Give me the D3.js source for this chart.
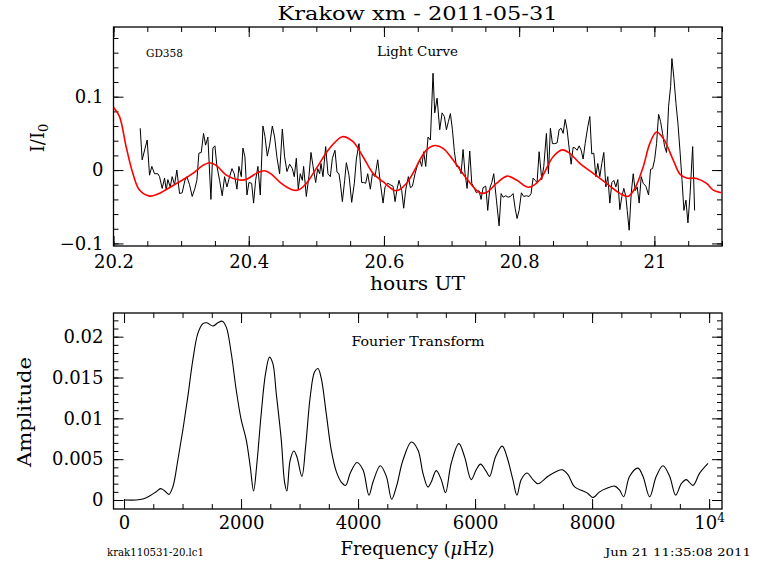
<!DOCTYPE html>
<html><head><meta charset="utf-8">
<script src="https://cdn.jsdelivr.net/npm/d3@7"></script>
<style>body{margin:0;background:#fff} svg{display:block} text{font-family:"DejaVu Serif",serif;fill:#000}</style>
</head><body><svg id="c" width="768" height="574"></svg>
<script>
// ---------- data ----------
const lcTime = [
20.2395,20.2424,20.2498,20.2533,20.2567,20.2607,20.2656,20.2681,20.2720,20.2755,
20.2780,20.2804,20.2839,20.2868,20.2903,20.2937,20.2977,20.3016,20.3056,20.3085,
20.3125,20.3164,20.3204,20.3233,20.3263,20.3298,20.3332,20.3362,20.3396,20.3441,
20.3470,20.3500,20.3530,20.3569,20.3608,20.3643,20.3678,20.3717,20.3752,20.3786,
20.3826,20.3855,20.3890,20.3914,20.3944,20.3974,20.4003,20.4043,20.4072,20.4102,
20.4136,20.4171,20.4210,20.4240,20.4275,20.4309,20.4349,20.4383,20.4418,20.4457,
20.4497,20.4531,20.4566,20.4605,20.4645,20.4674,20.4704,20.4733,20.4763,20.4793,
20.4812,20.4852,20.4891,20.4921,20.4950,20.4990,20.5020,20.5049,20.5069,20.5098,
20.5138,20.5172,20.5207,20.5237,20.5276,20.5306,20.5335,20.5355,20.5385,20.5419,
20.5444,20.5483,20.5523,20.5562,20.5592,20.5631,20.5671,20.5700,20.5730,20.5760,
20.5799,20.5829,20.5868,20.5908,20.5947,20.5987,20.6016,20.6056,20.6095,20.6135,
20.6164,20.6194,20.6223,20.6263,20.6292,20.6322,20.6361,20.6391,20.6421,20.6460,
20.6490,
20.6529,20.6559,20.6588,20.6618,20.6652,20.6687,20.6726,20.6751,20.6786,20.6825,
20.6860,20.6894,20.6924,20.6953,20.6983,20.7013,20.7042,20.7072,20.7111,20.7141,
20.7170,20.7200,20.7230,20.7269,20.7299,20.7328,20.7368,20.7407,20.7437,20.7466,
20.7506,20.7535,20.7565,20.7595,20.7624,20.7664,20.7703,20.7733,20.7762,20.7802,
20.7836,20.7871,20.7910,20.7940,20.7969,20.7999,20.8033,20.8068,20.8107,20.8147,
20.8176,20.8206,20.8236,20.8265,20.8295,20.8334,20.8364,20.8403,20.8433,20.8462,
20.8492,20.8527,20.8561,20.8591,20.8621,20.8650,20.8680,20.8709,20.8739,20.8769,
20.8798,20.8828,20.8857,20.8887,20.8917,20.8946,20.8976,20.9015,20.9045,20.9074,
20.9104,20.9134,20.9163,20.9193,20.9222,20.9252,20.9282,20.9311,20.9341,20.9371,
20.9400,20.9430,20.9459,20.9489,20.9519,20.9548,20.9578,20.9598,20.9627,20.9657,
20.9687,20.9716,20.9746,20.9775,20.9805,20.9835,20.9874,20.9914,20.9943,20.9973,
21.0003,21.0032,21.0062,21.0092,21.0121,21.0151,21.0180,21.0210,21.0240,21.0259,
21.0289,21.0319,21.0348,21.0378,21.0408,21.0437,21.0467,21.0496,21.0526,21.0566,
21.0595];
const lcFlux = [
0.057,0.014,0.041,-0.007,0.005,-0.005,-0.005,-0.009,-0.025,-0.011,
-0.027,-0.013,-0.023,-0.009,-0.020,0.000,-0.032,-0.031,-0.014,-0.009,
-0.020,-0.036,-0.025,-0.014,0.023,0.024,0.050,0.034,0.045,-0.040,
0.030,0.033,0.005,-0.014,-0.035,-0.009,-0.023,-0.009,0.002,-0.005,
-0.026,0.005,-0.009,0.030,0.018,-0.034,-0.017,-0.018,-0.045,-0.014,
0.005,-0.034,0.060,0.046,0.019,0.034,0.060,0.045,0.017,-0.005,
0.056,0.018,-0.002,0.008,0.002,-0.009,0.016,-0.026,-0.005,-0.014,
0.005,-0.036,-0.008,0.024,0.006,-0.017,0.002,-0.005,0.009,-0.009,
0.032,-0.005,-0.009,0.016,0.027,-0.003,-0.005,-0.018,-0.043,-0.014,
0.010,-0.007,-0.044,-0.018,0.015,0.036,-0.017,-0.017,-0.018,-0.005,
-0.026,-0.005,-0.009,0.014,-0.018,-0.045,-0.023,-0.018,-0.020,-0.022,
-0.043,-0.026,-0.014,-0.028,-0.052,-0.027,-0.009,-0.024,-0.022,-0.005,
0.005,
0.014,0.005,0.025,0.005,0.045,0.041,0.132,0.078,0.098,0.055,
0.078,0.073,0.055,0.066,0.077,0.055,0.025,0.005,0.005,-0.005,
0.028,-0.005,-0.025,0.026,-0.018,-0.023,-0.031,-0.028,-0.040,-0.024,
-0.022,-0.055,-0.025,-0.017,-0.005,-0.041,-0.076,-0.032,-0.037,-0.035,
-0.037,-0.036,-0.032,-0.052,-0.066,-0.055,-0.031,-0.036,-0.035,-0.036,
-0.032,-0.011,-0.014,-0.017,0.025,-0.013,0.005,0.050,-0.005,0.057,
0.036,0.036,0.037,0.055,0.057,0.050,0.069,0.055,0.030,0.008,
0.031,0.030,0.027,0.033,0.027,0.015,0.036,0.059,0.073,0.022,
0.023,-0.009,0.009,-0.009,0.009,0.024,-0.023,-0.009,-0.045,-0.017,
-0.014,-0.023,-0.013,-0.054,-0.036,-0.025,-0.036,-0.055,-0.082,-0.032,
-0.005,-0.028,-0.023,-0.045,-0.009,-0.018,-0.022,-0.034,0.001,0.002,
0.014,0.036,0.076,0.066,0.050,0.032,0.024,0.087,0.114,0.152,
0.125,0.091,0.064,0.027,-0.013,-0.055,-0.041,-0.072,-0.036,0.032,
-0.055];

const fitTime = [20.2,20.2089,20.2187,20.2286,20.2385,20.2533,20.2656,20.2780,20.2977,20.3174,
20.3322,20.3421,20.3520,20.3668,20.3865,20.3964,20.4112,20.4235,20.4334,20.4482,
20.4630,20.4728,20.4852,20.5000,20.5197,20.5385,20.5542,20.5690,20.5839,20.5987,
20.6184,20.6332,20.6480,20.6529,20.6628,20.6751,20.6875,20.7023,20.7220,20.7417,
20.7516,20.7664,20.7822,20.7960,20.8140,20.8305,20.8502,20.8641,20.8749,20.8897,
20.9095,20.9292,20.9489,20.9610,20.9711,20.9835,20.9933,21.0032,21.0131,21.0279,
21.0378,21.0476,21.0624,21.0772,21.0871,21.1];
const fitFlux = [0.0855,0.0728,0.0318,-0.0045,-0.0273,-0.0355,-0.0327,-0.0264,-0.0159,-0.0045,
0.0064,0.0100,0.0064,-0.0068,-0.0136,-0.0127,-0.0045,-0.0009,-0.0055,-0.0182,
-0.0264,-0.0273,-0.0182,0.0023,0.0296,0.0455,0.0387,0.0182,-0.0045,-0.0159,
-0.0282,-0.0182,0.0045,0.0136,0.0273,0.0335,0.0296,0.0136,-0.0114,-0.0310,
-0.0305,-0.0182,-0.0082,-0.0136,-0.0235,-0.0136,0.0182,0.0275,0.0227,0.0091,
-0.0045,-0.0182,-0.0318,-0.0360,-0.0250,0.0045,0.0364,0.0518,0.0432,0.0136,
-0.0055,-0.0109,-0.0114,-0.0182,-0.0273,-0.0309];

const ftFreq = [0,208,322,436,550,624,692,766,835,920,
1006,1091,1177,1262,1348,1416,1519,1604,1678,1746,
1832,1917,2003,2088,2157,2214,2271,2345,2419,2487,
2544,2601,2687,2744,2783,2840,2903,2954,3040,3103,
3183,3257,3314,3371,3456,3542,3627,3713,3787,3867,
3981,4084,4186,4255,4380,4483,4574,4654,4768,4911,
5025,5108,5193,5250,5336,5421,5495,5592,5723,5820,5934,
6019,6093,6190,6247,6350,6464,6544,6646,6715,6789,
6886,6989,7074,7245,7388,7490,7587,7701,7844,7929,
8014,8128,8242,8385,8470,8539,8641,8784,8869,8983,
9097,9211,9325,9428,9525,9610,9724,9838,9981];
const ftAmp = [0,0,0.00012,0.00049,0.00102,0.00139,0.00114,0.00069,0.00163,0.0049,
0.0086,0.0127,0.0172,0.0204,0.0216,0.0217,0.0213,0.0217,0.0219,0.0212,
0.0180,0.0135,0.0098,0.0074,0.0041,0.0011,0.0045,0.0106,0.0155,0.0175,
0.0167,0.0131,0.0074,0.0022,0.0011,0.0049,0.0060,0.0053,0.0029,0.0065,
0.0127,0.0157,0.0161,0.0149,0.0106,0.0061,0.0035,0.0022,0.0018,0.0033,
0.0046,0.0037,0.0006,0.0022,0.0042,0.0029,0.0001,0.0016,0.0049,0.0071,
0.0061,0.0033,0.0016,0.0022,0.0036,0.0025,0.0009,0.0045,0.0069,0.0053,0.0025,
0.0037,0.0044,0.0035,0.0029,0.0053,0.0066,0.0053,0.0025,0.0006,0.0025,
0.0033,0.0025,0.0020,0.0029,0.0035,0.0037,0.0031,0.0016,0.0011,0.0008,
0.0003,0.0010,0.0014,0.0017,0.0012,0.0004,0.0029,0.0039,0.0029,0.0004,
0.0029,0.0042,0.0029,0.0006,0.0020,0.0025,0.0018,0.0033,0.0045];

const lcXTicks = [20.2, 20.4, 20.6, 20.8, 21];
const lcXLabels = ["20.2", "20.4", "20.6", "20.8", "21"];
const lcYTicks = [-0.1, 0, 0.1];
const lcYLabels = ["\u22120.1", "0", "0.1"];
const ftXTicks = [0, 2000, 4000, 6000, 8000, 10000];
const ftXLabels = ["0", "2000", "4000", "6000", "8000", "10"];
const ftYTicks = [0, 0.005, 0.01, 0.015, 0.02];
const ftYLabels = ["0", "0.005", "0.01", "0.015", "0.02"];

// ---------- layout ----------
const svg = d3.select("#c");
const L = 113.5, R = 722;
const xLC = d3.scaleLinear([20.2, 21.1], [L, R]);
const yLC = d3.scaleLinear([-0.1035, 0.195], [246, 27]);
const xFT = d3.scaleLinear([-180, 10220], [L, R]);
const yFT = d3.scaleLinear([-0.0011, 0.0229], [509, 313]);
const MAJ = 10, MIN = 5;

function drawAxes(xs, ys, xMaj, xMin, yMaj, yMin, xLab, yLab, xPad, yPad) {
  const [x0, x1] = xs.range(), [yb, yt] = ys.range();
  const g = svg.append("g");
  const style = sel => { sel.select(".domain").remove(); sel.attr("font-family", "DejaVu Serif").attr("font-size", 18);
    sel.selectAll("line").attr("stroke", "#000").attr("stroke-width", 1); };
  const xl = g.append("g").attr("class", "xlab").attr("transform", `translate(0,${yb})`)
    .call(d3.axisBottom(xs).tickValues(xMaj).tickSize(-MAJ).tickPadding(xPad).tickFormat((d, i) => xLab[i])).call(style);
  g.append("g").attr("transform", `translate(0,${yb})`)
    .call(d3.axisBottom(xs).tickValues(xMin).tickSize(-MIN).tickFormat("")).call(style);
  g.append("g").attr("transform", `translate(0,${yt})`)
    .call(d3.axisTop(xs).tickValues(xMaj).tickSize(-MAJ).tickFormat("")).call(style);
  g.append("g").attr("transform", `translate(0,${yt})`)
    .call(d3.axisTop(xs).tickValues(xMin).tickSize(-MIN).tickFormat("")).call(style);
  g.append("g").attr("transform", `translate(${x0},0)`)
    .call(d3.axisLeft(ys).tickValues(yMaj).tickSize(-MAJ).tickPadding(yPad).tickFormat((d, i) => yLab[i])).call(style);
  g.append("g").attr("transform", `translate(${x0},0)`)
    .call(d3.axisLeft(ys).tickValues(yMin).tickSize(-MIN).tickFormat("")).call(style);
  g.append("g").attr("transform", `translate(${x1},0)`)
    .call(d3.axisRight(ys).tickValues(yMaj).tickSize(-MAJ).tickFormat("")).call(style);
  g.append("g").attr("transform", `translate(${x1},0)`)
    .call(d3.axisRight(ys).tickValues(yMin).tickSize(-MIN).tickFormat("")).call(style);
  g.append("rect").attr("x", x0).attr("y", yt).attr("width", x1 - x0).attr("height", yb - yt)
    .attr("fill", "none").attr("stroke", "#000").attr("stroke-width", 1.3);
  return xl;
}
const rng = (a, b, s) => d3.range(Math.round(a / s), Math.round(b / s) + 1).map(k => +(k * s).toFixed(6));

drawAxes(xLC, yLC, lcXTicks, rng(20.2, 21.1, 0.05), lcYTicks, rng(-0.1, 0.18, 0.02), lcXLabels, lcYLabels, 9, 10);
const ftXAxis = drawAxes(xFT, yFT, ftXTicks, rng(0, 10000, 500), ftYTicks, rng(0, 0.022, 0.001), ftXLabels, ftYLabels, 7, 10);
ftXAxis.selectAll(".tick text").filter(d => d === 10000)
  .append("tspan").attr("dy", "-0.55em").attr("font-size", 12).text("4");

// clip paths
const defs = svg.append("defs");
defs.append("clipPath").attr("id", "clipLC").append("rect").attr("x", L).attr("y", 27).attr("width", R - L).attr("height", 219);
defs.append("clipPath").attr("id", "clipFT").append("rect").attr("x", L).attr("y", 313).attr("width", R - L).attr("height", 196);

// light curve
svg.append("path").attr("clip-path", "url(#clipLC)")
  .attr("d", d3.line().x((d, i) => xLC(lcTime[i])).y(d => yLC(d))(lcFlux))
  .attr("fill", "none").attr("stroke", "#000").attr("stroke-width", 1).attr("stroke-linejoin", "miter");
svg.append("path").attr("clip-path", "url(#clipLC)")
  .attr("d", d3.line().curve(d3.curveCatmullRom.alpha(0.5)).x((d, i) => xLC(fitTime[i])).y(d => yLC(d))(fitFlux))
  .attr("fill", "none").attr("stroke", "#ff0000").attr("stroke-width", 1.6);

// fourier transform
svg.append("path").attr("clip-path", "url(#clipFT)")
  .attr("d", d3.line().curve(d3.curveCatmullRom.alpha(0.5)).x((d, i) => xFT(ftFreq[i])).y(d => yFT(d))(ftAmp))
  .attr("fill", "none").attr("stroke", "#000").attr("stroke-width", 1.1);

// texts
const T = (x, y, s, size, anchor, len) => {
  const t = svg.append("text").attr("x", x).attr("y", y).attr("font-size", size).attr("text-anchor", anchor || "start").text(s);
  if (len) t.attr("textLength", len).attr("lengthAdjust", "spacingAndGlyphs");
  return t;
};
T(417.5, 20, "Krakow xm - 2011-05-31", 18, "middle", 280);
T(146, 56.5, "GD358", 11, "start", 37);
T(417.5, 56, "Light Curve", 12.5, "middle", 81);
T(417.5, 290, "hours UT", 18, "middle", 95);
T(418, 346, "Fourier Transform", 12.5, "middle", 133);
const fr = T(417.5, 555, "Frequency (", 18, "middle");
fr.append("tspan").attr("font-style", "italic").text("\u03bc");
fr.append("tspan").text("Hz)");
T(107, 556, "krak110531-20.lc1", 11, "start", 97);
T(751, 556, "Jun 21 11:35:08 2011", 11, "end", 146);
const yl = svg.append("text").attr("transform", "translate(44,138) rotate(-90)").attr("text-anchor", "middle").attr("font-size", 18);
yl.append("tspan").text("I/I");
yl.append("tspan").attr("dy", "0.3em").attr("font-size", 13).text("0");
svg.append("text").attr("transform", "translate(31,412) rotate(-90)").attr("text-anchor", "middle").attr("font-size", 18)
  .attr("textLength", 110).attr("lengthAdjust", "spacingAndGlyphs").text("Amplitude");
</script>
</body></html>
